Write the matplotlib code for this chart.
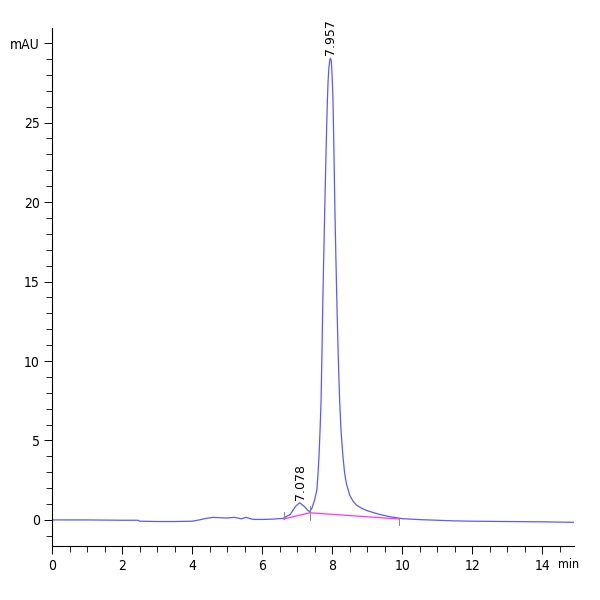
import matplotlib
matplotlib.use('Agg')
import matplotlib.pyplot as plt
from matplotlib.ticker import MultipleLocator, FixedLocator

# chromatogram trace (time in min, signal in mAU)
time = [0.0, 1.0, 2.0, 2.45, 2.5, 3.0, 3.5, 4.0, 4.2, 4.4, 4.6, 4.8, 5.0,
        5.1, 5.2, 5.3, 5.4, 5.5, 5.55, 5.6, 5.7, 5.8, 6.0, 6.3, 6.6, 6.8,
        6.95, 7.07, 7.2, 7.3, 7.36, 7.42, 7.5, 7.56, 7.59, 7.62, 7.65, 7.68,
        7.705, 7.73, 7.76, 7.79, 7.825, 7.86, 7.88, 7.905, 7.93, 7.95, 7.97,
        7.99, 8.01, 8.02, 8.045, 8.07, 8.1, 8.13, 8.17, 8.21, 8.25, 8.3,
        8.35, 8.4, 8.5, 8.6, 8.7, 8.85, 9.0, 9.3, 9.6, 10.0, 10.5, 11.0,
        11.5, 12.0, 13.0, 14.0, 14.9]
signal = [0.0, 0.0, -0.02, -0.02, -0.08, -0.1, -0.1, -0.08, 0.0, 0.1, 0.16,
          0.14, 0.12, 0.14, 0.16, 0.12, 0.07, 0.14, 0.16, 0.12, 0.05, 0.03,
          0.03, 0.05, 0.1, 0.35, 0.85, 1.08, 0.85, 0.6, 0.52, 0.75, 1.3,
          1.9, 2.8, 4.0, 5.6, 7.5, 10.5, 13.8, 17.0, 20.1, 23.5, 26.4, 27.6,
          28.5, 28.95, 29.05, 28.9, 28.2, 27.1, 26.4, 23.5, 20.1, 16.8, 13.8,
          10.3, 7.5, 5.6, 4.1, 3.0, 2.3, 1.55, 1.15, 0.92, 0.72, 0.58, 0.38,
          0.22, 0.08, 0.02, -0.02, -0.06, -0.08, -0.1, -0.12, -0.15]

# integration baseline and peak markers
base_t = [6.61, 7.36, 9.9]
base_y = [0.06, 0.45, 0.06]
peak_rt = [7.078, 7.957]
peak_h = [1.08, 29.05]

font = ['DejaVu Sans']

fig = plt.figure(figsize=(6, 6), dpi=100)
ax = fig.add_axes([0.087, 0.09, 0.87, 0.863])

ax.plot(time, signal, color='#5a5aff', lw=0.9)
ax.plot(base_t, base_y, color='#ff33ff', lw=0.9)

# start / end ticks of the integration
for t, y0, y1 in [(6.61, 0.06, 0.5), (7.36, 0.0, 0.9), (9.9, -0.3, 0.06)]:
    ax.plot([t, t], [y0, y1], color='#888888', lw=0.7)

for rt, h in zip(peak_rt, peak_h):
    ax.text(rt, h + 0.2, f'{rt:.3f}', rotation=90, ha='center', va='bottom',
            fontsize=9, family=font)

ax.set_xlim(0, 14.91)
ax.set_ylim(-1.64, 30.94)

ax.xaxis.set_major_locator(MultipleLocator(2))
ax.xaxis.set_minor_locator(MultipleLocator(0.5))
ax.yaxis.set_major_locator(FixedLocator([0, 5, 10, 15, 20, 25, 30]))
ax.yaxis.set_minor_locator(MultipleLocator(1))
ax.set_yticklabels(['0', '5', '10', '15', '20', '25', 'mAU'])
ax.set_xticks([0, 2, 4, 6, 8, 10, 12, 14])

for s in ['top', 'right']:
    ax.spines[s].set_visible(False)
for s in ['left', 'bottom']:
    ax.spines[s].set_linewidth(0.8)

ax.tick_params(which='major', length=6, width=0.7, labelsize=10, pad=3)
ax.tick_params(which='minor', length=4, width=0.6)
for lab in ax.get_xticklabels() + ax.get_yticklabels():
    lab.set_family(font)
    lab.set_stretch('condensed')

ax.annotate('min', xy=(14.75, 0), xycoords=('data', 'axes fraction'),
            xytext=(0, -9), textcoords='offset points', ha='center', va='top',
            fontsize=9, family=font, stretch='condensed')

fig.savefig('out.png', dpi=100)
